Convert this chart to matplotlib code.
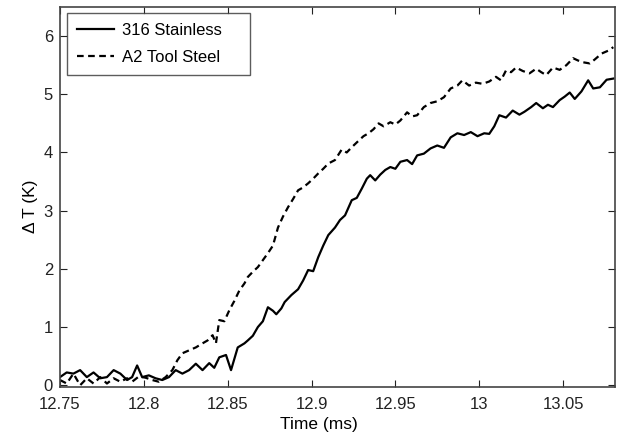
import matplotlib
matplotlib.use("Agg")
import matplotlib.pyplot as plt

# 316 Stainless (solid)
t_ss = [12.750, 12.754, 12.758, 12.762, 12.766, 12.770, 12.774, 12.778, 12.782, 12.786,
        12.790, 12.793, 12.796, 12.799, 12.803, 12.807, 12.811, 12.815, 12.819, 12.823,
        12.827, 12.831, 12.835, 12.839, 12.842, 12.845, 12.849, 12.852, 12.856, 12.860,
        12.862, 12.865, 12.868, 12.871, 12.874, 12.877, 12.879, 12.882, 12.884, 12.888,
        12.892, 12.895, 12.898, 12.901, 12.904, 12.907, 12.910, 12.914, 12.917, 12.920,
        12.924, 12.927, 12.930, 12.933, 12.935, 12.938, 12.941, 12.944, 12.947, 12.950,
        12.953, 12.957, 12.960, 12.963, 12.967, 12.971, 12.975, 12.979, 12.983, 12.987,
        12.991, 12.995, 12.999, 13.003, 13.006, 13.009, 13.012, 13.016, 13.020, 13.024,
        13.027, 13.031, 13.034, 13.038, 13.041, 13.044, 13.048, 13.051, 13.054, 13.057,
        13.061, 13.065, 13.068, 13.072, 13.076, 13.080]
v_ss = [0.14, 0.22, 0.20, 0.26, 0.14, 0.22, 0.12, 0.14, 0.26, 0.20,
        0.09, 0.14, 0.34, 0.14, 0.17, 0.12, 0.09, 0.14, 0.26, 0.20,
        0.26, 0.37, 0.26, 0.38, 0.30, 0.48, 0.52, 0.26, 0.65, 0.72,
        0.77, 0.85, 1.00, 1.10, 1.34, 1.28, 1.22, 1.32, 1.43, 1.55,
        1.65, 1.80, 1.98, 1.96, 2.20, 2.40, 2.58, 2.71, 2.84, 2.92,
        3.18, 3.22, 3.38, 3.55, 3.61, 3.52, 3.62, 3.70, 3.75, 3.72,
        3.84, 3.87, 3.80, 3.95, 3.98, 4.07, 4.12, 4.08, 4.26, 4.33,
        4.30, 4.35, 4.28, 4.33, 4.32, 4.45, 4.64, 4.60, 4.72, 4.65,
        4.70, 4.78, 4.85, 4.76, 4.82, 4.78, 4.90, 4.96, 5.03, 4.92,
        5.05, 5.24, 5.10, 5.12, 5.25, 5.27]

# A2 Tool Steel (dashed)
t_a2 = [12.750, 12.754, 12.758, 12.762, 12.766, 12.770, 12.774, 12.778, 12.782, 12.786,
        12.790, 12.793, 12.797, 12.801, 12.805, 12.809, 12.813, 12.817, 12.820, 12.823,
        12.827, 12.831, 12.835, 12.838, 12.841, 12.843, 12.845, 12.848, 12.851, 12.854,
        12.857, 12.860, 12.862, 12.865, 12.868, 12.871, 12.874, 12.877, 12.880, 12.883,
        12.886, 12.889, 12.892, 12.895, 12.898, 12.901, 12.904, 12.907, 12.910, 12.914,
        12.918, 12.921, 12.924, 12.928, 12.931, 12.934, 12.937, 12.940, 12.943, 12.947,
        12.950, 12.953, 12.957, 12.960, 12.963, 12.967, 12.971, 12.975, 12.979, 12.983,
        12.987, 12.990, 12.994, 12.998, 13.002, 13.006, 13.010, 13.013, 13.016, 13.019,
        13.022, 13.026, 13.030, 13.034, 13.037, 13.040, 13.044, 13.048, 13.052, 13.056,
        13.059, 13.062, 13.066, 13.069, 13.073, 13.077, 13.080]
v_a2 = [0.09, 0.03, 0.20, 0.00, 0.12, 0.03, 0.14, 0.03, 0.12, 0.06,
        0.12, 0.06, 0.15, 0.13, 0.09, 0.06, 0.14, 0.26, 0.43, 0.55,
        0.60, 0.65, 0.72, 0.77, 0.86, 0.72, 1.12, 1.10, 1.29, 1.45,
        1.63, 1.75, 1.86, 1.95, 2.03, 2.15, 2.27, 2.40, 2.71, 2.90,
        3.06, 3.20, 3.35, 3.40, 3.47, 3.55, 3.64, 3.72, 3.81, 3.87,
        4.05, 4.00, 4.09, 4.20, 4.28, 4.33, 4.40, 4.50, 4.45, 4.52,
        4.48, 4.55, 4.69, 4.62, 4.64, 4.78, 4.85, 4.88, 4.95, 5.10,
        5.15, 5.24, 5.15, 5.20, 5.18, 5.22, 5.30, 5.24, 5.41, 5.38,
        5.46, 5.40, 5.36, 5.44, 5.38, 5.33, 5.46, 5.42, 5.50, 5.62,
        5.58, 5.55, 5.53, 5.60, 5.70, 5.75, 5.81]

x_ticks = [12.75, 12.8, 12.85, 12.9, 12.95, 13.0, 13.05]
x_ticklabels = ["12.75", "12.8", "12.85", "12.9", "12.95", "13", "13.05"]
y_ticks = [0, 1, 2, 3, 4, 5, 6]

plt.rcParams['font.family'] = ['Liberation Sans', 'DejaVu Sans']

fig = plt.figure(figsize=(6.19, 4.37), dpi=100)
ax = fig.add_axes([60/619, 50/437, 555/619, 380/437])

ax.plot(t_ss, v_ss, color='black', lw=1.6, ls='-', label='316 Stainless')
ax.plot(t_a2, v_a2, color='black', lw=1.6, ls=(0, (3, 2)), label='A2 Tool Steel')

ax.set_xlim(12.75, 13.081)
ax.set_ylim(-0.03, 6.5)
ax.set_xticks(x_ticks)
ax.set_xticklabels(x_ticklabels)
ax.set_yticks(y_ticks)
ax.tick_params(direction='in', top=True, right=True, length=5, width=0.8,
               labelsize=12, colors='#222222', pad=4)
ax.tick_params(axis='x', pad=7)
ax.tick_params(axis='y', pad=5)
for s in ax.spines.values():
    s.set_color('#444444')
    s.set_linewidth(1.2)

ax.set_xlabel('Time (ms)', fontsize=12.5)
ax.xaxis.set_label_coords(0.467, -0.078)
ax.set_ylabel('Δ T (K)', fontsize=12.5)
ax.yaxis.set_label_coords(-0.04, 0.476)

leg = ax.legend(loc='upper left', bbox_to_anchor=(0.0126, 0.0, 0.3297, 0.984),
                mode='expand', borderaxespad=0.0,
                fontsize=12, frameon=True, fancybox=False,
                edgecolor='#333333', handlelength=2.2, handletextpad=0.5,
                borderpad=0.6, labelspacing=0.7)
leg.get_frame().set_linewidth(1.0)

fig.savefig('out.png', dpi=100)
